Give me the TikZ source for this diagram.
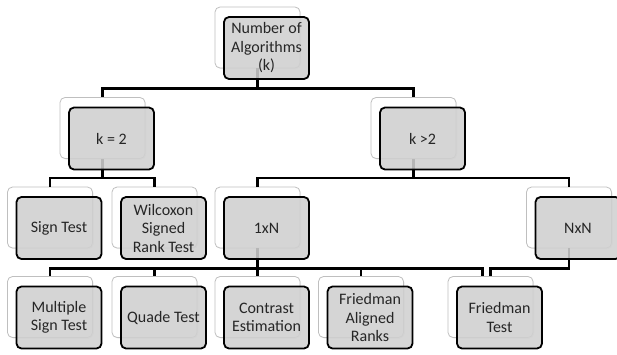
\documentclass[tikz,border=0pt]{standalone}
\usepackage{fontspec}
\setmainfont{Carlito}
\usetikzlibrary{shadows}

\begin{document}
\begin{tikzpicture}[x=1pt,y=-1pt]

\tikzset{back/.style = {shape=rectangle,rounded corners=5pt,draw=gray!50,fill=white,line width=0.8pt,minimum width=85pt,minimum height=61pt,drop shadow={opacity=0.15,shadow xshift=1pt,shadow yshift=-1pt}}}
\tikzset{front/.style = {shape=rectangle,rounded corners=5pt,draw=black,line width=1.8pt,fill=gray!37,fill opacity=0.88,draw opacity=1,text opacity=1,text=black!85,minimum width=85pt,minimum height=62pt,align=center,font=\fontsize{16}{18.5}\selectfont}}
\tikzset{edge/.style = {line width=2.6pt,black}}
\useasboundingbox (0,0) rectangle (617,354);
% back boxes
\node[back] (root) at (257.5,37.5) {};
\node[back] (k2) at (102.5,128) {};
\node[back] (kg2) at (413.5,128) {};
\node[back] (sign) at (50,217.5) {};
\node[back] (wil) at (154.5,217.5) {};
\node[back] (oxn) at (257.5,217.5) {};
\node[back] (nxn) at (569,217.5) {};
\node[back] (mst) at (50,307) {};
\node[back] (quade) at (154.5,307) {};
\node[back] (con) at (257.5,307) {};
\node[back] (far) at (361,307) {};
\node[back] (ft) at (490.5,307) {};
%edges
\draw[edge] (root.south) -- ++(0,20) -| (k2.north);
\draw[edge] (root.south) -- ++(0,20) -| (kg2.north);
\draw[edge] (k2.south) -- ++(0,19) -| (sign.north);
\draw[edge] (k2.south) -- ++(0,19) -| (wil.north);
\draw[edge] (kg2.south) -- ++(0,19) -| (oxn.north);
\draw[edge] (kg2.south) -- ++(0,19) -| (nxn.north);
\draw[edge] (oxn.south) -- ++(0,20) -| (mst.north);
\draw[edge] (oxn.south) -- ++(0,20) -| (quade.north);
\draw[edge] (oxn.south) -- ++(0,20) -| (con.north);
\draw[edge] (oxn.south) -- ++(0,20) -| (far.north);
\draw[edge] (oxn.south) -- ++(0,20) -| ([xshift=-8pt]ft.north);
\draw[edge] (nxn.south) -- ++(0,20) -| (ft.north);
% front boxes
\node[front] (rootf) at ([shift={(9,10.5)}]root) {Number of\\Algorithms\\(k)};
\node[front] (k2f) at ([shift={(9,10.5)}]k2) {k = 2};
\node[front] (kg2f) at ([shift={(9,10.5)}]kg2) {k >2};
\node[front] (signf) at ([shift={(9,10.5)}]sign) {Sign Test};
\node[front] (wilf) at ([shift={(9,10.5)}]wil) {Wilcoxon\\Signed\\Rank Test};
\node[front] (oxnf) at ([shift={(9,10.5)}]oxn) {1xN};
\node[front] (nxnf) at ([shift={(9,10.5)}]nxn) {NxN};
\node[front] (mstf) at ([shift={(9,10.5)}]mst) {Multiple\\Sign Test};
\node[front] (quadef) at ([shift={(9,10.5)}]quade) {Quade Test};
\node[front] (conf) at ([shift={(9,10.5)}]con) {Contrast\\Estimation};
\node[front] (farf) at ([shift={(9,10.5)}]far) {Friedman\\Aligned\\Ranks};
\node[front] (ftf) at ([shift={(9,10.5)}]ft) {Friedman\\Test};
\end{tikzpicture}
\end{document}
